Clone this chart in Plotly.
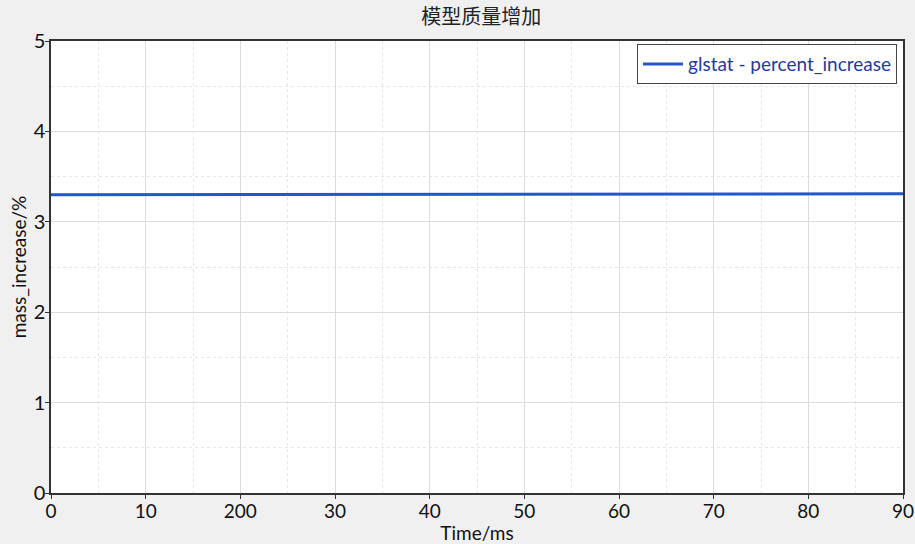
import plotly.graph_objects as go

time_ms = [0, 10, 20, 30, 40, 50, 60, 70, 80, 90]
mass_increase = [3.300, 3.301, 3.302, 3.303, 3.304, 3.305, 3.306, 3.307, 3.308, 3.309]
x_tick_vals = [0, 10, 20, 30, 40, 50, 60, 70, 80, 90]
x_tick_text = ["0", "10", "200", "30", "40", "50", "60", "70", "80", "90"]
y_tick_vals = [0, 1, 2, 3, 4, 5]

font_main = "Lato, Open Sans, sans-serif"

fig = go.Figure()
fig.add_trace(go.Scatter(
    x=time_ms, y=mass_increase, mode="lines",
    name="glstat - percent_increase",
    line=dict(color="#2256c9", width=3),
))

fig.update_layout(
    width=915, height=544,
    paper_bgcolor="#f0f0f0", plot_bgcolor="white",
    margin=dict(l=51, r=12, t=41, b=51, autoexpand=False),
    title=dict(text="模型质量增加", x=0.526, xanchor="center", y=0.968, yanchor="middle",
               font=dict(family="Noto Sans CJK SC", size=20, color="#222")),
    font=dict(family=font_main, size=18, color="#111"),
    showlegend=True,
    legend=dict(x=0.993, xanchor="right", y=0.993, yanchor="top",
                bgcolor="white", bordercolor="#444", borderwidth=1,
                font=dict(family=font_main, size=19, color="#1f3a99"),
                itemwidth=40),
)

fig.update_xaxes(
    range=[0, 90], tickvals=x_tick_vals, ticktext=x_tick_text,
    showline=True, linecolor="#333", linewidth=1.5, mirror=True,
    ticks="outside", ticklen=4, tickcolor="#333",
    ticklabelstandoff=-4,
    showgrid=True, gridcolor="#dcdcdc", gridwidth=1,
    minor=dict(dtick=5, showgrid=True, gridcolor="#e6e6e6", griddash="dot", ticks=""),
    zeroline=False, automargin=False,
    title=dict(text="Time/ms", standoff=2, font=dict(size=19)),
    tickfont=dict(size=19),
)
fig.update_yaxes(
    range=[0, 5], tickvals=y_tick_vals,
    showline=True, linecolor="#333", linewidth=1.5, mirror=True,
    ticks="outside", ticklen=4, tickcolor="#333",
    ticklabelstandoff=-4,
    showgrid=True, gridcolor="#dcdcdc", gridwidth=1,
    minor=dict(dtick=0.5, showgrid=True, gridcolor="#e6e6e6", griddash="dot", ticks=""),
    zeroline=False, automargin=False,
    title=dict(text="mass_increase/%", standoff=2, font=dict(size=19)),
    tickfont=dict(size=20),
)

fig.write_html(
    "out.html",
    config={"displayModeBar": False},
    post_script="document.body.style.margin='0';document.body.style.overflow='hidden';",
)
